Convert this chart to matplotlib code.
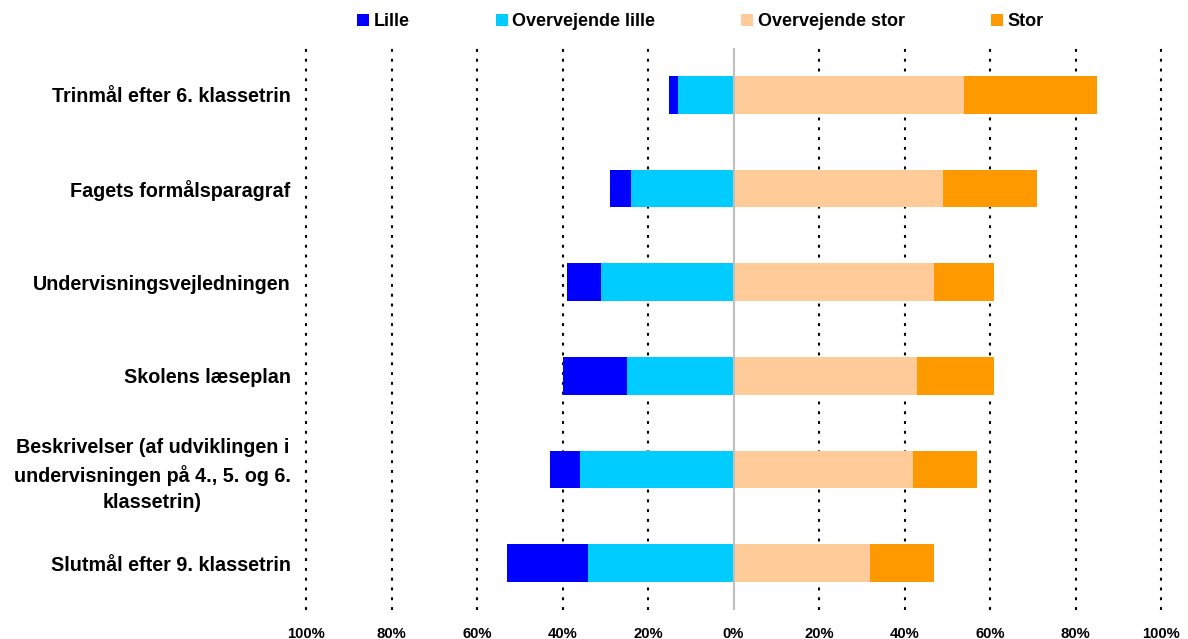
import matplotlib.pyplot as plt
from matplotlib.patches import Patch

plt.rcParams['font.family'] = ['Liberation Sans', 'DejaVu Sans']
plt.rcParams['font.weight'] = 'bold'

categories = [
    "Trinmål efter 6. klassetrin",
    "Fagets formålsparagraf",
    "Undervisningsvejledningen",
    "Skolens læseplan",
    "Beskrivelser (af udviklingen i\nundervisningen på 4., 5. og 6.\nklassetrin)",
    "Slutmål efter 9. klassetrin",
]
lille = [2, 5, 8, 15, 7, 19]
overv_lille = [13, 24, 31, 25, 36, 34]
overv_stor = [54, 49, 47, 43, 42, 32]
stor = [31, 22, 14, 18, 15, 15]

tick_vals = [-100, -80, -60, -40, -20, 0, 20, 40, 60, 80, 100]
tick_labels = [f"{abs(v)}%" for v in tick_vals]

colors = {"Lille": "#0000FF", "Overvejende lille": "#00CCFF",
          "Overvejende stor": "#FFCC99", "Stor": "#FF9900"}

fig = plt.figure(figsize=(11.88, 6.39), dpi=100)
ax = fig.add_axes([306 / 1188, 1 - 610 / 639, 855 / 1188, 562 / 639])

y = list(range(len(categories)))
h = 0.405

# negative side: overvejende lille next to zero, lille outside it
ax.barh(y, [-v for v in overv_lille], height=h, color=colors["Overvejende lille"], zorder=3)
ax.barh(y, [-v for v in lille], left=[-v for v in overv_lille], height=h,
        color=colors["Lille"], zorder=3)
# positive side
ax.barh(y, overv_stor, height=h, color=colors["Overvejende stor"], zorder=3)
ax.barh(y, stor, left=overv_stor, height=h, color=colors["Stor"], zorder=3)

for v in tick_vals:
    if v == 0:
        ax.axvline(0, color="#BFBFBF", lw=1.5, zorder=4)
    else:
        ax.axvline(v, color="black", lw=1.5, linestyle=(0, (1.4, 3.3)), zorder=1, clip_on=False)

ax.set_xlim(-100, 100)
ax.set_ylim(len(categories) - 0.5, -0.5)
ax.set_xticks(tick_vals)
ax.set_xticklabels(tick_labels, fontsize=10.7, fontweight="bold")
ax.set_yticks(y)
ax.set_yticklabels(categories, fontsize=14.2, fontweight="bold", multialignment="center",
                   linespacing=1.45)
ax.tick_params(axis="both", length=0)
ax.tick_params(axis="x", pad=12)
ax.tick_params(axis="y", pad=11)
for s in ax.spines.values():
    s.set_visible(False)

handles = [Patch(facecolor=c, edgecolor="none", label=k) for k, c in colors.items()]
fig.legend(handles=handles, loc="center left", bbox_to_anchor=(357 / 1188, 1 - 22 / 639),
           ncol=4, frameon=False, prop={"weight": "bold", "size": 13},
           handlelength=0.68, handleheight=0.68, handletextpad=0.25, columnspacing=4.75,
           borderpad=0, borderaxespad=0)

fig.savefig("out.png", dpi=100)
